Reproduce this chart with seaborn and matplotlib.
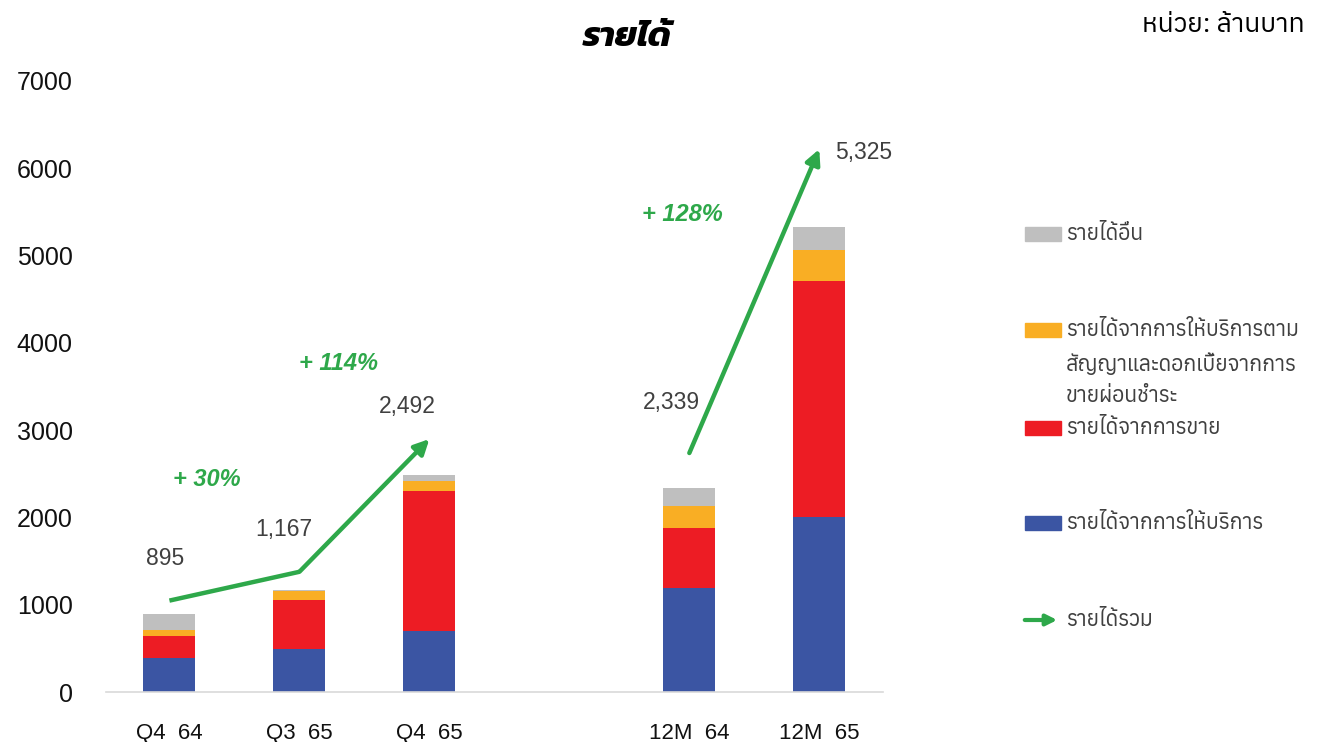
import matplotlib
matplotlib.use("Agg")
import matplotlib.pyplot as plt
import matplotlib.font_manager as fm
from matplotlib.patches import Rectangle, FancyArrowPatch
import seaborn as sns
import pandas as pd
import numpy as np

# ---------------- data ----------------
categories = ["Q4 64", "Q3 65", "Q4 65", "12M 64", "12M 65"]
service_rev = [395, 494, 700, 1200, 2010]          # blue
sales_rev = [253, 563, 1600, 678, 2700]            # red
contract_rev = [69, 100, 115, 250, 360]            # orange
other_rev = [178, 10, 77, 211, 255]                # gray
total_labels = ["895", "1,167", "2,492", "2,339", "5,325"]
trend_quarter = [1050, 1380, 2900]
trend_annual = [2740, 6220]
growth_labels = ["+ 30%", "+ 114%", "+ 128%"]
legend_labels = ["รายได้อื่น",
                 "รายได้จากการให้บริการตาม\nสัญญาและดอกเบี้ยจากการ\nขายผ่อนชำระ",
                 "รายได้จากการขาย",
                 "รายได้จากการให้บริการ",
                 "รายได้รวม"]
title_text = "รายได้"
unit_text = "หน่วย: ล้านบาท"

# ---------------- fonts ----------------
sns.set_theme(style="white")
names = {f.name for f in fm.fontManager.ttflist}
def pick(*cands):
    for c in cands:
        if c in names:
            return c
    return "DejaVu Sans"
THAI = pick("Anuphan", "Noto Sans Thai", "Loma")
TITLE = pick("Kanit", "Mitr", "Anuphan", "Loma")
plt.rcParams["font.family"] = [THAI, "Liberation Sans", "DejaVu Sans"]
NUM = ["Liberation Sans", "DejaVu Sans"]

BLUE = "#3B55A3"
RED = "#ED1C24"
ORANGE = "#F9AE24"
GRAY = "#BFBFBF"
GREEN = "#2EA84A"
LABEL = "#404040"

gap = " "
order = categories[:3] + [gap] + categories[3:]
c1 = np.array(service_rev)
c2 = c1 + np.array(sales_rev)
c3 = c2 + np.array(contract_rev)
c4 = c3 + np.array(other_rev)
df = pd.DataFrame({"cat": categories, "blue": c1, "red": c2, "orange": c3, "gray": c4})

W, H = 1321, 742
fig = plt.figure(figsize=(W / 100, H / 100), dpi=100)
ax = fig.add_axes([106 / W, 1 - 692.3 / H, (883 - 106) / W, (692.3 - 81) / H])

for col, color in [("gray", GRAY), ("orange", ORANGE), ("red", RED), ("blue", BLUE)]:
    sns.barplot(data=df, x="cat", y=col, order=order, color=color, width=0.4,
                saturation=1, ax=ax, errorbar=None, linewidth=0)

pos = {c: order.index(c) for c in categories}
ax.set_xlim(-0.488, 5.49)
ax.set_ylim(0, 7000)
ax.set_yticks(range(0, 7001, 1000))
ax.set_yticklabels([str(v) for v in range(0, 7001, 1000)], fontsize=18, color="#111111",
                   family=NUM)
ax.set_xticks([pos[c] for c in categories])
ax.set_xticklabels([c.replace(" ", "  ") for c in categories], fontsize=16, color="#111111",
                   family=NUM)
ax.set_xlabel("")
ax.set_ylabel("")
ax.tick_params(axis="y", length=0, pad=24)
ax.tick_params(axis="x", length=0, pad=22)
for s in ["top", "right", "left"]:
    ax.spines[s].set_visible(False)
ax.spines["bottom"].set_color("#D9D9D9")
ax.spines["bottom"].set_linewidth(1.2)

# trend arrows
arrow_kw = dict(arrowstyle="-|>", color=GREEN, lw=3.2, mutation_scale=22, shrinkA=0, shrinkB=0)
qx = [pos[c] for c in categories[:3]]
ax.plot(qx[:2], trend_quarter[:2], color=GREEN, lw=3.2, zorder=5, solid_capstyle="butt")
ax.annotate("", xy=(qx[2], trend_quarter[2]), xytext=(qx[1], trend_quarter[1]),
            arrowprops=arrow_kw, zorder=5)
yx = [pos[c] for c in categories[3:]]
ax.annotate("", xy=(yx[1], trend_annual[1]), xytext=(yx[0], trend_annual[0]),
            arrowprops=arrow_kw, zorder=5)

# total labels
lbl_pos = [(-0.03, 1530), (0.88, 1860), (1.83, 3270), (3.86, 3320), (5.34, 6180)]
for (x, y), t in zip(lbl_pos, total_labels):
    ax.text(x, y, t, ha="center", va="center", fontsize=16.5, color=LABEL, family=NUM)

g_pos = [(0.29, 2440), (1.30, 3760), (3.95, 5470)]
for (x, y), t in zip(g_pos, growth_labels):
    ax.text(x, y, t, ha="center", va="center", fontsize=17, color=GREEN,
            fontweight="bold", fontstyle="italic", family=NUM)

fig.text(627 / W, 1 - 38 / H, title_text, ha="center", va="center", fontsize=25,
         fontweight="bold", fontstyle="italic", color="black", family=[TITLE, THAI])
fig.text(1305 / W, 1 - 25 / H, unit_text, ha="right", va="center", fontsize=19, color="black")

# legend
items = [(234, GRAY, [234]), (330, ORANGE, [330, 364, 397]), (428, RED, [428]), (523, BLUE, [523])]
for (y, c, ys), lab in zip(items, legend_labels[:4]):
    fig.patches.append(Rectangle((1025 / W, 1 - (y + 7) / H), 36 / W, 14 / H,
                                 transform=fig.transFigure, color=c))
    for yy, line in zip(ys, lab.split("\n")):
        fig.text(1066 / W, 1 - yy / H, line, ha="left", va="center", fontsize=15.3, color="#404040")
fig.add_artist(FancyArrowPatch((1022 / W, 1 - 620 / H), (1060 / W, 1 - 620 / H),
               transform=fig.transFigure, arrowstyle="-|>", color=GREEN, lw=3, mutation_scale=16))
fig.text(1066 / W, 1 - 620 / H, legend_labels[4], ha="left", va="center", fontsize=15.3, color="#404040")

fig.savefig("out.png", dpi=100)
